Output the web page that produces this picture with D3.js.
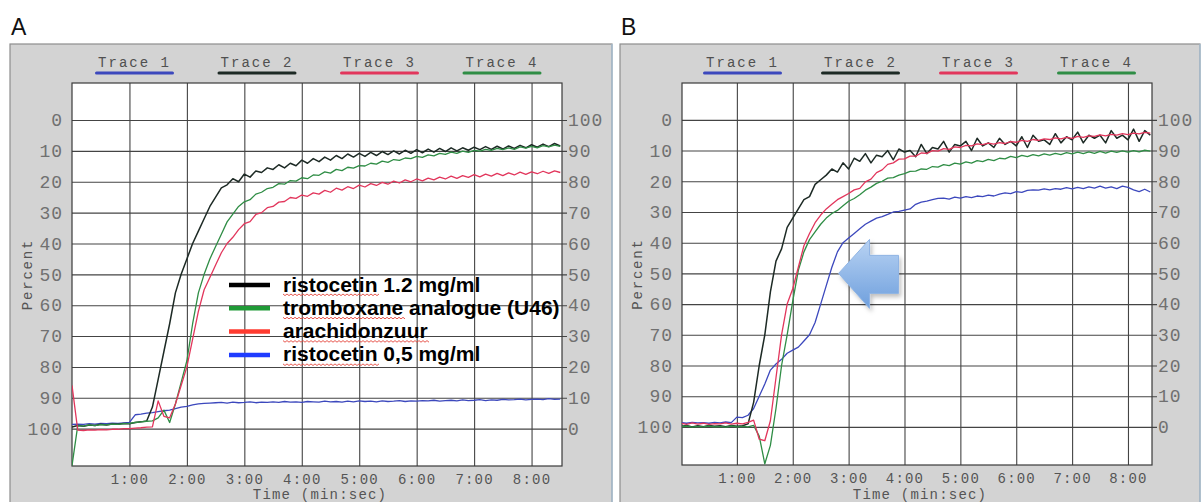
<!DOCTYPE html>
<html>
<head>
<meta charset="utf-8">
<script src="https://cdn.jsdelivr.net/npm/d3@7/dist/d3.min.js"></script>
<style>
  html, body { margin: 0; padding: 0; background: #fff; }
  svg { display: block; }
</style>
</head>
<body>
<svg id="chart" width="1204" height="502"></svg>
<script>
/* Readings: percent (left axis, 0 top / 100 bottom), one value every 0.1 min */
const TIME_STEP = 0.1;

const percentTicks = [0, 10, 20, 30, 40, 50, 60, 70, 80, 90, 100];
const timeTicks = [1, 2, 3, 4, 5, 6, 7, 8];
const timeTickLabels = ["1:00", "2:00", "3:00", "4:00", "5:00", "6:00", "7:00", "8:00"];
const traceNames = ["Trace 1", "Trace 2", "Trace 3", "Trace 4"];
const legendLabels = ["ristocetin 1.2 mg/ml", "tromboxane analogue (U46)", "arachidonzuur", "ristocetin 0,5 mg/ml"];

// panel A
const panelA_trace1 = [98.6, 98.5, 98.6, 98.4, 98.5, 98.3, 98.4, 98.2, 98.3, 98.1, 98,
  95.5, 95.3, 95, 94.8, 94.5, 94.2, 94, 93.5, 93, 92.8, 92.3, 92, 91.8, 91.7, 91.6,
  91.5, 91.7, 91.4, 91.6, 91.5, 91.3, 91.6, 91.4, 91.5, 91.3, 91.5, 91.2, 91.4, 91.3, 91.5, 91.2, 91.3, 91.4, 91.1, 91.3,
  91.2, 91.4, 91.1, 91.3, 91, 91.2, 91.1, 91.3, 91, 91.2, 91.1, 90.9, 91.2, 91, 91.1, 90.9, 91, 90.8, 91.1, 90.9,
  90.8, 91, 90.7, 90.9, 90.8, 90.6, 90.9, 90.7, 90.8, 90.5, 90.7, 90.6, 90.4, 90.7, 90.5, 90.4, 90.6, 90.3, 90.5, 90.4];
const panelA_trace2 = [99.5,
  99, 99.2, 98.8, 99, 98.6, 98.8, 98.5, 98.6, 98.3, 98.4, 98, 97.8, 97.5,
  93, 84, 75, 66, 56, 50, 45, 40, 36, 32, 28, 25, 22, 21, 19,
  20, 17.5, 18.5, 16.5, 17, 15.5, 16, 14.5, 15.5, 14, 14.8, 13, 14, 12.5, 13.5, 12, 13, 11.5, 12.5, 11,
  12, 10.8, 11.8, 10.5, 11.5, 10.2, 11.2, 10, 11, 9.8, 10.8, 9.6, 10.6, 9.4, 10.4, 9.2, 10.2, 9, 10, 9,
  9.8, 8.8, 9.6, 8.6, 9.5, 8.5, 9.4, 8.4, 9.2, 8.2, 9, 8, 8.8, 7.8, 8.6, 7.6, 8.4];
const panelA_trace3 = [86,
  100.5, 100.6, 100.4, 100.5, 100.3, 100.4, 100.2, 100.2, 100, 100, 99.8, 99.7, 99.5, 99.4,
  91, 96, 96.5, 92, 86, 80, 71, 62, 55, 51, 47, 43, 40, 38,
  35.5, 33.6, 32.9, 30.6, 30, 28.4, 28, 26.6, 26.4, 25.1, 25.4, 24.3, 24.7, 23.6, 24, 22.8, 23.4, 22.1, 22.7, 21.6,
  22.2, 21.1, 21.7, 20.6, 21.2, 20.2, 20.8, 19.8, 20.4, 19.4, 20, 19.1, 19.7, 18.8, 19.4, 18.5, 19.1, 18.2, 18.9, 18,
  18.6, 17.7, 18.4, 17.5, 18.2, 17.3, 18, 17.1, 17.8, 16.9, 17.6, 16.8, 17.4, 16.6, 17.3, 16.5, 17];
const panelA_trace4 = [112,
  99, 99.2, 98.8, 99, 98.7, 98.8, 98.5, 98.6, 98.4, 98.3, 98, 97.8, 97.6, 97.5, 96.5,
  94, 98, 92, 85, 78, 66, 56, 50, 45, 41, 37, 33, 30.5,
  28, 26.5, 25.8, 24, 23.4, 22.2, 21.8, 20.6, 20.8, 19.6, 19.8, 18.7, 19, 17.8, 17.9, 16.8, 17.2, 16, 16.4, 15.3,
  15.6, 14.8, 14.9, 14, 14.3, 13.3, 13.7, 12.8, 13.1, 12.3, 12.5, 11.8, 12.1, 11.3, 11.6, 10.8, 11.1, 10.4, 10.8, 10.1,
  10.5, 9.8, 10.1, 9.5, 9.8, 9.2, 9.6, 9, 9.5, 8.7, 9.1, 8.5, 9, 8.3, 8.7, 8.1, 8.5];

// panel B
const panelB_trace1 = [98.6, 98.8, 98.5, 98.7, 98.6, 98.8, 98.5, 98.7, 98.4, 98.6,
  96.8, 97, 96.2, 94, 90, 86, 81.5, 79.5, 78, 76, 75, 74, 72, 70, 66, 60, 54, 48, 43, 40,
  38.5, 37, 35.5, 34, 33, 32, 31.5, 30.8, 30, 29.8, 29.4, 29, 27.5, 26.8, 26.5, 26, 25.6, 25.5, 25.8, 25.2,
  25.5, 25, 25.3, 24.8, 25, 24.5, 24.8, 24.2, 23.8, 24, 23.4, 23.6, 23, 22.8, 22.9, 22.5, 22.8, 22.4, 22.6, 22.1,
  22.5, 22, 22.4, 21.8, 22.2, 21.6, 22.2, 21.8, 22.4, 21.6, 22, 22.8, 23.4, 22.6, 23.5];
const panelB_trace2 = [99.8, 99.5, 100, 99.6, 99.9, 99.5, 99.8, 99.6, 99.9, 99.5, 99.8, 99.6,
  99, 92, 80, 70, 56, 46, 42, 35, 32, 29, 26, 25, 21, 19.5, 18, 16, 17,
  14, 16, 12.5, 13.5, 11, 14, 11.5, 12, 10, 13, 9.5, 10.5, 10, 12, 8, 11, 9, 9.5, 7, 10.5,
  8, 8.5, 7, 10, 6, 8.5, 7.5, 9, 6, 8, 7, 8.5, 5.5, 9, 5, 7, 6.5, 8, 4.5, 7.5,
  5.5, 6.5, 4, 7.5, 5, 6, 5, 7.5, 3.5, 6, 5, 6.5, 3, 7, 3.5, 5];
const panelB_trace3 = [98.8, 99.2, 98.7, 99.1, 98.8, 99.2, 98.9, 99, 98.7, 99.1, 98.8, 99, 98.5,
  97.8, 104, 104.5, 98, 84, 70, 60, 55, 48, 41, 37, 33.5, 31, 29, 27.5, 26, 25,
  24, 22.8, 22.3, 20.2, 19.3, 17.2, 16.3, 14.5, 14, 12.8, 12.7, 11.8, 11.8, 10.8, 10.9, 10, 10.2, 9.4, 9.6, 8.8,
  9, 8.3, 8.5, 7.8, 8.1, 7.6, 7.9, 7.4, 7.7, 7.1, 7.3, 6.7, 7, 6.4, 6.7, 6.2, 6.4, 5.9, 6.2, 5.7,
  6, 5.4, 5.7, 5.2, 5.4, 4.9, 5.2, 4.7, 5, 4.5, 4.8, 4.3, 4.6, 4.1, 4.3];
const panelB_trace4 = [100, 99.7, 100.1, 99.8, 100, 99.7, 100, 99.8, 100.1, 99.7, 100, 99.8, 100, 99.5,
  103, 112, 106, 94, 80, 70, 59, 49, 43, 39, 36.5, 34, 32, 30.5, 29.5, 28,
  26.5, 25.6, 24.4, 22.9, 21.9, 20.7, 20, 19, 18.8, 18, 17.5, 16.8, 16.7, 16, 16.1, 15.2, 15.4, 14.6, 14.9, 14.1,
  14.4, 13.7, 14.1, 13.3, 13.6, 12.9, 13.3, 12.5, 12.7, 11.9, 12.3, 11.6, 12, 11.3, 11.7, 11.1, 11.5, 10.9, 11.3, 10.7,
  11.1, 10.5, 11, 10.4, 10.9, 10.3, 10.8, 10.2, 10.6, 10.1, 10.5, 10, 10.4, 9.9, 10.2];

// styles
const MONO = "'Liberation Mono', 'DejaVu Sans Mono', monospace";
const SANS = "'Liberation Sans', Arial, sans-serif";
const traceColors = ["#3c48bd", "#1d2a25", "#e2365c", "#2f8d45"];
const traceWidths = [1.3, 1.5, 1.3, 1.3];
const legendColors = ["#000000", "#1f9a36", "#ff3b30", "#1f3cff"];
const drawOrder = [0, 1, 3, 2];

const svg = d3.select("#chart");
const defs = svg.append("defs");

const grad = defs.append("linearGradient").attr("id", "arrowFill")
  .attr("x1", 0).attr("y1", 0).attr("x2", 0).attr("y2", 1);
grad.append("stop").attr("offset", "0%").attr("stop-color", "#b9d3f3");
grad.append("stop").attr("offset", "100%").attr("stop-color", "#6e9fdd");

const shadow = defs.append("filter").attr("id", "arrowShadow")
  .attr("x", "-20%").attr("y", "-20%").attr("width", "150%").attr("height", "150%");
shadow.append("feDropShadow").attr("dx", 2).attr("dy", 3).attr("stdDeviation", 2)
  .attr("flood-color", "#000").attr("flood-opacity", 0.25);

const panels = [
  {
    id: "A", frameX: 10, frameW: 602,
    left: 72, right: 562, top: 83, bottom: 466,
    tMax: 8.53, pTop: -12, pBottom: 112.1,
    traceLabel0: 134.5, traceLabelGap: 122.5,
    traces: [panelA_trace1, panelA_trace2, panelA_trace3, panelA_trace4]
  },
  {
    id: "B", frameX: 620, frameW: 580,
    left: 682, right: 1152, top: 83, bottom: 465,
    tMax: 8.43, pTop: -12, pBottom: 112.4, x0: 681,
    traceLabel0: 742.5, traceLabelGap: 118,
    traces: [panelB_trace1, panelB_trace2, panelB_trace3, panelB_trace4]
  }
];

function styleText(sel, size, spacing, fill) {
  sel.attr("font-family", MONO).attr("font-size", size)
    .attr("letter-spacing", spacing).attr("fill", fill);
}

panels.forEach(p => {
  const g = svg.append("g");
  const x = d3.scaleLinear().domain([0, p.tMax]).range([p.x0 || p.left, p.right]);
  const y = d3.scaleLinear().domain([p.pTop, p.pBottom]).range([p.top, p.bottom]);
  const yRight = d3.scaleLinear().domain([100 - p.pTop, 100 - p.pBottom]).range([p.top, p.bottom]);
  p.x = x; p.y = y;

  // panel letter
  g.append("text").attr("x", p.frameX + 1).attr("y", 35)
    .attr("font-family", SANS).attr("font-size", 23).attr("fill", "#111")
    .text(p.id);

  // grey frame
  g.append("rect").attr("x", p.frameX).attr("y", 44).attr("width", p.frameW).attr("height", 470)
    .attr("fill", "#d3d3d3").attr("stroke", "#8e8e8e").attr("stroke-width", 1.2);
  g.append("line").attr("x1", p.frameX + p.frameW).attr("x2", p.frameX + p.frameW)
    .attr("y1", 44).attr("y2", 502).attr("stroke", "#a8c4da").attr("stroke-width", 1.2);

  // plot area
  g.append("rect").attr("x", p.left).attr("y", p.top)
    .attr("width", p.right - p.left).attr("height", p.bottom - p.top).attr("fill", "#fff");

  // vertical grid
  g.append("g").attr("transform", `translate(0,${p.bottom})`)
    .call(d3.axisBottom(x).tickValues(timeTicks).tickSize(-(p.bottom - p.top)).tickFormat(""))
    .call(a => a.select(".domain").remove())
    .call(a => a.selectAll("line").attr("stroke", "#444").attr("stroke-width", 1.1));

  // horizontal grid + right axis labels
  g.append("g").attr("transform", `translate(${p.right},0)`)
    .call(d3.axisRight(yRight).tickValues(percentTicks).tickSize(5).tickPadding(1))
    .call(a => a.select(".domain").remove())
    .call(a => a.selectAll("line").attr("x1", -(p.right - p.left)).attr("stroke", "#444").attr("stroke-width", 1.1))
    .call(a => styleText(a.selectAll("text"), 18, 1, "#707070"));

  // left axis labels
  g.append("g").attr("transform", `translate(${p.left},0)`)
    .call(d3.axisLeft(y).tickValues(percentTicks).tickSize(0).tickPadding(9))
    .call(a => a.select(".domain").remove())
    .call(a => styleText(a.selectAll("text"), 18, 1, "#707070"));

  // bottom time labels
  g.append("g").attr("transform", `translate(0,${p.bottom})`)
    .call(d3.axisBottom(x).tickValues(timeTicks).tickSize(0).tickPadding(8)
      .tickFormat((d, i) => timeTickLabels[i]))
    .call(a => a.select(".domain").remove())
    .call(a => styleText(a.selectAll("text"), 14, 1.2, "#555"));

  // plot border
  g.append("rect").attr("x", p.left).attr("y", p.top)
    .attr("width", p.right - p.left).attr("height", p.bottom - p.top)
    .attr("fill", "none").attr("stroke", "#3a3a3a").attr("stroke-width", 1.2);

  // traces
  const clipId = "clip" + p.id;
  defs.append("clipPath").attr("id", clipId).append("rect")
    .attr("x", p.left).attr("y", p.top).attr("width", p.right - p.left).attr("height", p.bottom - p.top);
  const line = d3.line().x((d, i) => x(i * TIME_STEP)).y(d => y(d));
  const tg = g.append("g").attr("clip-path", `url(#${clipId})`);
  drawOrder.forEach(k => {
    tg.append("path").datum(p.traces[k]).attr("d", line)
      .attr("fill", "none").attr("stroke", traceColors[k])
      .attr("stroke-width", traceWidths[k]).attr("stroke-linejoin", "round");
  });

  // trace labels on top
  traceNames.forEach((name, i) => {
    const cx = p.traceLabel0 + i * p.traceLabelGap;
    const t = g.append("text").attr("x", cx).attr("y", 67).attr("text-anchor", "middle").text(name);
    styleText(t, 14, 2, "#505050");
    g.append("line").attr("x1", cx - 38).attr("x2", cx + 38).attr("y1", 73).attr("y2", 73)
      .attr("stroke", traceColors[i]).attr("stroke-width", 3).attr("stroke-linecap", "round");
  });

  // axis titles
  const py = (p.top + p.bottom) / 2;
  const pt = g.append("text").attr("transform", `translate(${p.frameX + 17},${py}) rotate(-90)`)
    .attr("text-anchor", "middle").attr("dy", "0.35em").text("Percent");
  styleText(pt, 14, 1.8, "#555");
  const tt = g.append("text").attr("x", (p.left + p.right) / 2 + 3).attr("y", 499)
    .attr("text-anchor", "middle").text("Time (min:sec)");
  styleText(tt, 14, 1.2, "#555");
});

// legend overlay on panel A
const legendX = 229, legendY = 285, legendRow = 23.3;
const leg = svg.append("g");
legendLabels.forEach((label, i) => {
  const yy = legendY + i * legendRow;
  leg.append("line").attr("x1", legendX).attr("x2", legendX + 41).attr("y1", yy).attr("y2", yy)
    .attr("stroke", legendColors[i]).attr("stroke-width", 4.5);
  const t = leg.append("text").attr("x", legendX + 54).attr("y", yy + 6.5)
    .attr("font-family", SANS).attr("font-weight", "bold").attr("font-size", 21).attr("fill", "#000");
  label.split(" ").forEach((w, j) => {
    t.append("tspan").attr("class", "w" + j).text((j ? " " : "") + w);
  });
  // spell-check squiggle under the first word
  const first = t.select(".w0").node();
  const x0 = first.getStartPositionOfChar(0).x;
  const x1 = x0 + first.getComputedTextLength();
  const sy = yy + 9;
  let d = `M${x0},${sy}`;
  for (let xx = x0, k = 0; xx < x1; xx += 2, k++) d += `L${xx + 2},${sy + (k % 2 ? 0 : 1.6)}`;
  leg.append("path").attr("d", d).attr("fill", "none").attr("stroke", "#e4463c").attr("stroke-width", 0.9);
});

// arrow in panel B pointing at the ristocetin 0,5 curve
const pb = panels[1];
const tipX = pb.x(2.82), tipY = pb.y(50);
const arrowShape = [[0, 0], [31, -34], [31, -18], [60, -18], [60, 20], [31, 20], [31, 35]];
svg.append("polygon")
  .attr("points", arrowShape.map(q => [tipX + q[0], tipY + q[1]].join(",")).join(" "))
  .attr("fill", "url(#arrowFill)").attr("stroke", "#8fb4e4").attr("stroke-width", 1)
  .attr("filter", "url(#arrowShadow)");
</script>
</body>
</html>
